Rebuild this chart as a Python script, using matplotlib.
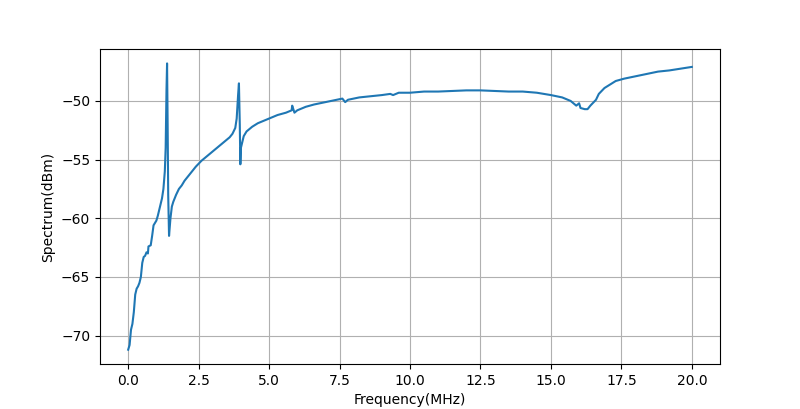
import matplotlib
matplotlib.use("Agg")
import matplotlib.pyplot as plt

freq_mhz = [
    0.0, 0.05, 0.1, 0.15, 0.2, 0.25, 0.3, 0.35, 0.4, 0.45, 0.5, 0.55, 0.6, 0.65,
    0.7, 0.72, 0.8, 0.85, 0.9, 1.0, 1.05, 1.1, 1.15, 1.2, 1.25, 1.3, 1.33, 1.36,
    1.38, 1.4, 1.42, 1.45, 1.5, 1.55, 1.6, 1.7, 1.8, 1.9, 2.0, 2.2, 2.4, 2.6, 2.8,
    3.0, 3.2, 3.4, 3.6, 3.7, 3.8, 3.85, 3.9, 3.93, 3.96, 3.98, 4.0, 4.1, 4.2, 4.4,
    4.6, 4.8, 5.0, 5.3, 5.6, 5.8, 5.82, 5.9, 6.0, 6.3, 6.6, 7.0, 7.4, 7.6, 7.7,
    7.8, 8.2, 8.6, 9.0, 9.3, 9.4, 9.6, 10.0, 10.5, 11.0, 11.5, 12.0, 12.5, 13.0,
    13.5, 14.0, 14.5, 15.0, 15.4, 15.7, 15.9, 16.0, 16.05, 16.2, 16.3, 16.4, 16.6,
    16.7, 16.9, 17.1, 17.3, 17.6, 18.0, 18.4, 18.8, 19.2, 19.6, 20.0,
]
spectrum_dbm = [
    -71.2, -70.8, -69.5, -69.0, -68.0, -66.5, -66.0, -65.8, -65.5, -65.0, -63.8,
    -63.3, -63.2, -62.9, -63.0, -62.4, -62.3, -61.5, -60.6, -60.2, -59.8, -59.3,
    -58.8, -58.3, -57.5, -56.0, -54.0, -49.0, -46.8, -52.0, -58.0, -61.5, -60.0,
    -59.0, -58.6, -58.0, -57.5, -57.2, -56.8, -56.2, -55.6, -55.1, -54.7, -54.3,
    -53.9, -53.5, -53.1, -52.8, -52.3, -51.5, -49.5, -48.5, -52.0, -55.4, -54.0,
    -53.0, -52.6, -52.2, -51.9, -51.7, -51.5, -51.2, -51.0, -50.8, -50.4, -51.0,
    -50.8, -50.5, -50.3, -50.1, -49.9, -49.8, -50.1, -49.9, -49.7, -49.6, -49.5,
    -49.4, -49.5, -49.3, -49.3, -49.2, -49.2, -49.15, -49.1, -49.1, -49.15, -49.2,
    -49.2, -49.3, -49.5, -49.7, -50.0, -50.4, -50.2, -50.6, -50.7, -50.7, -50.4,
    -49.9, -49.4, -48.9, -48.6, -48.3, -48.1, -47.9, -47.7, -47.5, -47.4, -47.25,
    -47.1,
]

fig, ax = plt.subplots(figsize=(8, 4.09), dpi=100)

ax.plot(freq_mhz, spectrum_dbm)

ax.set_xlabel("Frequency(MHz)")
ax.set_ylabel("Spectrum(dBm)")
ax.grid(True)

fig.savefig("out.png")
plt.close()
